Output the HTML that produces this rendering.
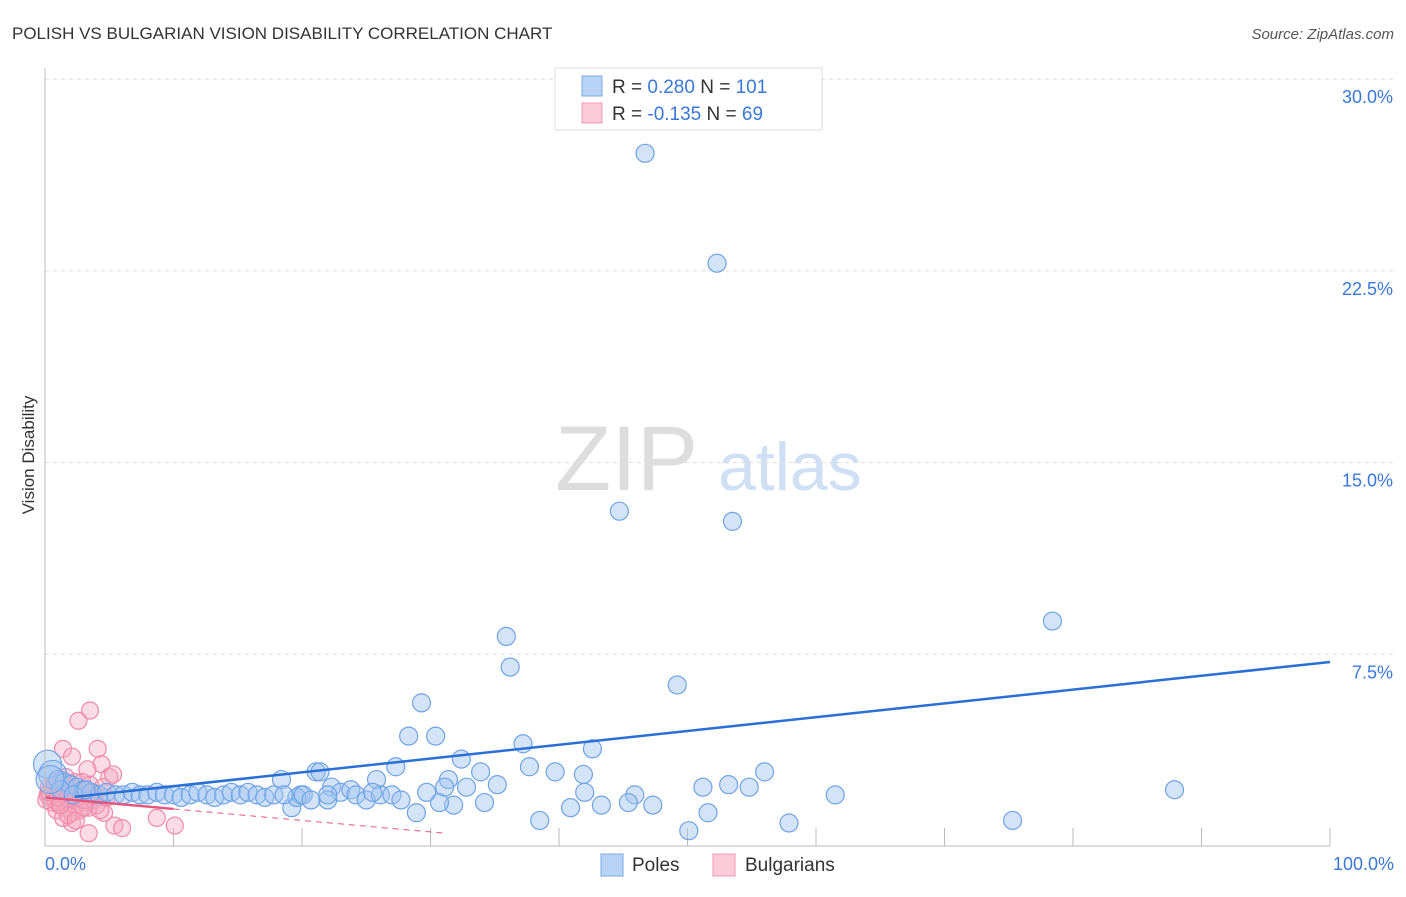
<!DOCTYPE html>
<html><head><meta charset="utf-8"><style>
body{margin:0;background:#fff;font-family:"Liberation Sans",sans-serif}
svg text{font-family:"Liberation Sans",sans-serif}
</style></head><body>
<svg width="1406" height="892">
<text x="12" y="39" font-size="17" fill="#333">POLISH VS BULGARIAN VISION DISABILITY CORRELATION CHART</text>
<text x="1394" y="39" font-size="15" fill="#555" font-style="italic" text-anchor="end">Source: ZipAtlas.com</text>
<text x="34" y="455" font-size="17" fill="#333" text-anchor="middle" transform="rotate(-90 34 455)">Vision Disability</text>
<text x="555" y="490" font-size="92" fill="#ddd" font-family="Liberation Serif">ZIP</text>
<text x="718" y="490" font-size="68" fill="#cfe0f4">atlas</text>
<g id="grid"></g><g id="pink"></g><g id="blue"></g><g id="lines"></g>
<line x1="45" y1="68" x2="45" y2="846" stroke="#bbb"/>
<line x1="45" y1="846" x2="1330" y2="846" stroke="#bbb"/>
<text x="45" y="870" font-size="18" fill="#3a78d8">0.0%</text>
<text x="1394" y="870" font-size="18" fill="#3a78d8" text-anchor="end">100.0%</text>
<g>
<rect x="555" y="68" width="267" height="62" fill="#fff" stroke="#ddd"/>
<rect x="582" y="76" width="20" height="20" fill="#b8d3f5" stroke="#7aa8e6"/>
<rect x="582" y="103" width="20" height="20" fill="#fbcbd9" stroke="#f09ab5"/>
<text x="612" y="93" font-size="19" fill="#333">R = <tspan fill="#3a78d8">0.280</tspan>   N = <tspan fill="#3a78d8">101</tspan></text>
<text x="612" y="120" font-size="19" fill="#333">R = <tspan fill="#3a78d8">-0.135</tspan>   N =  <tspan fill="#3a78d8">69</tspan></text>
</g>
<g>
<rect x="601" y="854" width="22" height="22" fill="#b8d3f5" stroke="#7aa8e6"/>
<text x="632" y="871" font-size="19" fill="#333">Poles</text>
<rect x="713" y="854" width="22" height="22" fill="#fbcbd9" stroke="#f09ab5"/>
<text x="745" y="871" font-size="19" fill="#333">Bulgarians</text>
</g>
</svg>
<script>
const yTicks=[30,22.5,15,7.5];
const xTicks=[10,20,30,40,50,60,70,80,90,100];
const blueX=[46.7,52.3,44.7,53.5,78.4,35.9,36.2,49.2,29.3,28.3,30.4,37.2,42.6,32.4,21.1,27.3,33.9,37.7,39.7,41.9,56.0,18.4,25.8,31.4,35.2,53.2,54.8,51.2,87.9,61.5,42.0,45.9,47.3,45.4,43.3,40.9,34.2,31.8,30.7,28.9,38.5,51.6,50.1,57.9,75.3,
21.4,22.3,19.2,23.0,23.8,24.2,25.0,26.1,27.0,27.7,19.9,22.0,25.5,29.7,31.1,32.8,19.6,20.1,20.7,22.0,
0.2,0.6,1.0,1.5,2.0,2.5,3.0,3.6,4.2,4.8,5.5,6.1,6.8,7.4,8.0,8.7,9.3,10.0,10.6,11.3,11.9,12.6,13.2,13.9,14.5,15.2,15.8,16.5,17.1,17.8,18.6,1.2,2.2,3.2,0.4];
const blueY=[27.1,22.8,13.1,12.7,8.8,8.2,7.0,6.3,5.6,4.3,4.3,4.0,3.8,3.4,2.9,3.1,2.9,3.1,2.9,2.8,2.9,2.6,2.6,2.6,2.4,2.4,2.3,2.3,2.2,2.0,2.1,2.0,1.6,1.7,1.6,1.5,1.7,1.6,1.7,1.3,1.0,1.3,0.6,0.9,1.0,
2.9,2.3,1.5,2.1,2.2,2.0,1.8,2.0,2.0,1.8,2.0,1.8,2.1,2.1,2.3,2.3,1.9,2.0,1.8,2.0,
3.2,2.8,2.6,2.5,2.4,2.3,2.2,2.1,2.0,2.1,2.0,2.0,2.1,2.0,2.0,2.1,2.0,2.0,1.9,2.0,2.1,2.0,1.9,2.0,2.1,2.0,2.1,2.0,1.9,2.0,2.0,2.2,2.0,2.2,2.6];
const pinkX=[3.5,2.6,1.4,2.1,4.1,4.4,3.3,5.0,4.6,5.4,6.0,8.7,10.1,3.4,2.1,
0.2,0.4,0.6,0.8,1.0,1.2,1.4,1.6,1.8,2.0,2.2,2.4,2.6,2.8,3.0,3.2,3.4,3.6,3.8,4.0,0.3,0.7,1.1,1.5,1.9,2.3,2.7,3.1,3.5,0.5,0.9,1.3,1.7,2.1,2.5,2.9,0.1,0.3,0.6,1.0,1.4,1.8,3.9,4.3,4.8,5.3,2.4,0.8,1.6,2.2,3.0,3.7,4.5,1.2];
const pinkY=[5.3,4.9,3.8,3.5,3.8,3.2,3.0,2.7,1.3,0.8,0.7,1.1,0.8,0.5,0.9,
2.0,1.9,2.1,1.8,2.0,2.2,1.9,1.7,2.0,2.1,1.8,1.6,2.0,1.9,2.2,1.7,1.5,2.0,1.8,1.6,2.3,2.4,1.6,1.5,2.3,2.5,1.4,1.8,2.4,1.7,1.4,2.6,2.2,1.3,1.9,2.5,1.8,2.1,2.2,1.9,1.1,1.2,2.0,1.4,1.9,2.8,1.0,2.5,2.7,2.0,1.5,2.1,2.3,1.6];
const blueFit=[1.8,7.2];
const pinkFit=[1.9,1.45];
const NS="http://www.w3.org/2000/svg";
const X=v=>45+v*12.85, Y=v=>846-v*25.56;
function mk(t,a,p){const e=document.createElementNS(NS,t);for(const k in a)e.setAttribute(k,a[k]);p.appendChild(e);return e;}
const grid=document.getElementById('grid');
yTicks.forEach(t=>{
 const l=mk('line',{x1:45,x2:1394,y1:Y(t),y2:Y(t),stroke:'#ddd','stroke-dasharray':'4,4'},grid);
 
 
 const tx=mk('text',{x:1393,y:Y(t)+24,'font-size':18,fill:'#3a78d8','text-anchor':'end'},grid);tx.textContent=t.toFixed(1)+'%';
 
 
});
xTicks.forEach(t=>{
 const l=mk('line',{x1:X(t),x2:X(t),y1:828,y2:846,stroke:'#bbb'},grid);
 
 
});
const pg=document.getElementById('pink');
pinkX.forEach((v,i)=>{const c=mk('circle',{cx:X(v),cy:Y(pinkY[i]),r:8.5,fill:'rgba(246,168,192,0.4)',stroke:'#f08aaa','stroke-width':1.2},pg);
 
 });
const bg=document.getElementById('blue');
blueX.forEach((v,i)=>{const r=(blueX[i]<1&&i>=65)?14:9;const c=mk('circle',{cx:X(v),cy:Y(blueY[i]),r:r,fill:'rgba(160,196,240,0.45)',stroke:'#6fa3e6','stroke-width':1.2},bg);
 
 });
const lg=document.getElementById('lines');
const b=mk('line',{x1:X(2.3),y1:Y(blueFit[0]+(blueFit[1]-blueFit[0])*0.023),x2:X(100),y2:Y(blueFit[1]),stroke:'#2a6fd6','stroke-width':2.5},lg);


const ps=(pinkFit[1]-pinkFit[0])/10;
const p=mk('line',{x1:X(0),y1:Y(pinkFit[0]),x2:X(10),y2:Y(pinkFit[1]),stroke:'#e8557f','stroke-width':2.5},lg);


const pd=mk('line',{x1:X(10),y1:Y(pinkFit[1]),x2:X(31),y2:Y(pinkFit[1]+ps*21),stroke:'#e8557f','stroke-width':1,'stroke-dasharray':'6,5'},lg);


</script>
</body></html>
